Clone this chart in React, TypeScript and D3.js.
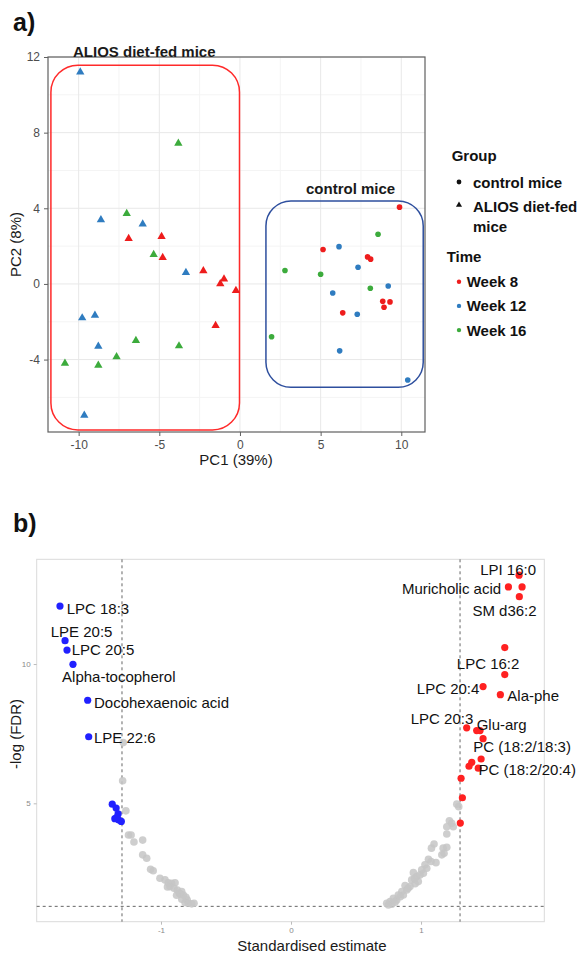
import React, { useEffect, useRef } from 'react'
import * as d3 from 'd3'

const FONT = '"Liberation Sans", Arial, sans-serif'

// ---- panel a: PCA scores [PC1, PC2] ----
const weekNames = ['Week 8', 'Week 12', 'Week 16']
const weekColors = ['#ee1c1c', '#2f7cc0', '#3cab3c']
const groupNames = ['control mice', 'ALIOS diet-fed mice']

const aliosWeek8 = [[-6.9, 2.4], [-4.86, 2.5], [-4.79, 1.39], [-2.27, 0.69], [-0.99, 0.26], [-1.22, 0.0], [-0.25, -0.35], [-1.51, -2.2]]
const aliosWeek12 = [[-9.9, 11.2], [-8.62, 3.39], [-6.03, 3.16], [-3.35, 0.6], [-9.78, -1.8], [-8.99, -1.66], [-8.78, -3.3], [-9.65, -6.95]]
const aliosWeek16 = [[-3.82, 7.44], [-7.02, 3.72], [-5.35, 1.55], [-6.45, -3.0], [-3.78, -3.28], [-7.65, -3.85], [-10.85, -4.2], [-8.78, -4.3]]

const controlWeek8 = [[9.89, 4.06], [5.15, 1.82], [7.91, 1.43], [8.1, 1.31], [8.85, -0.92], [9.3, -0.95], [8.93, -1.23], [6.37, -1.53]]
const controlWeek12 = [[6.14, 1.97], [7.32, 0.88], [9.19, -0.11], [5.75, -0.48], [7.27, -1.6], [6.18, -3.54], [10.4, -5.08]]
const controlWeek16 = [[8.56, 2.63], [2.79, 0.71], [5.0, 0.51], [8.08, -0.23], [1.96, -2.79]]

const pcaXTicks = [-10, -5, 0, 5, 10]
const pcaYTicks = [-4, 0, 4, 8, 12]

// ---- panel b: volcano [estimate, -log FDR] ----
const downLabelled = [
  { name: 'LPC 18:3', est: -1.777, fdr: 12.08 },
  { name: 'LPE 20:5', est: -1.738, fdr: 10.84 },
  { name: 'LPC 20:5', est: -1.723, fdr: 10.5 },
  { name: 'Alpha-tocopherol', est: -1.677, fdr: 9.99 },
  { name: 'Docohexaenoic acid', est: -1.564, fdr: 8.7 },
  { name: 'LPE 22:6', est: -1.556, fdr: 7.39 },
]
const downOther = [[-1.375, 4.97], [-1.345, 4.83], [-1.33, 4.62], [-1.355, 4.45], [-1.325, 4.4], [-1.305, 4.35], [-1.34, 4.5]]

const upLabelled = [
  { name: 'LPI 16:0', est: 1.754, fdr: 13.19 },
  { name: 'Muricholic acid', est: 1.672, fdr: 12.77 },
  { name: 'SM d36:2', est: 1.756, fdr: 12.42 },
  { name: 'LPC 16:2', est: 1.644, fdr: 9.62 },
  { name: 'LPC 20:4', est: 1.477, fdr: 9.19 },
  { name: 'Ala-phe', est: 1.61, fdr: 8.9 },
  { name: 'LPC 20:3', est: 1.351, fdr: 7.71 },
  { name: 'Glu-arg', est: 1.428, fdr: 7.61 },
  { name: 'PC (18:2/18:3)', est: 1.477, fdr: 7.32 },
  { name: 'PC (18:2/20:4)', est: 1.462, fdr: 6.59 },
]
const upOther = [[1.777, 12.77], [1.644, 10.59], [1.454, 7.61], [1.39, 6.47], [1.369, 6.33], [1.44, 6.26], [1.308, 5.9], [1.318, 5.2], [1.302, 4.29]]

const notSigLeft = [
  [-1.29, 7.18], [-1.295, 5.81], [-1.27, 4.73], [-1.25, 3.86], [-1.23, 3.86], [-1.208, 3.61], [-1.141, 3.68],
  [-1.141, 3.15], [-1.11, 3.03], [-1.08, 2.63], [-1.06, 2.58], [-1.008, 2.31], [-0.969, 2.25], [-0.944, 2.15],
  [-0.918, 2.13], [-0.892, 2.15], [-0.931, 2.01], [-0.9, 1.95], [-0.874, 1.89], [-0.841, 1.83], [-0.859, 1.77],
  [-0.828, 1.71], [-0.808, 1.63], [-0.798, 1.53], [-0.815, 1.44], [-0.79, 1.41], [-0.764, 1.39], [-0.746, 1.41],
  [-0.854, 1.75], [-0.84, 1.56], [-0.95, 2.0], [-0.88, 1.7],
]
const notSigRight = [
  [1.275, 4.97], [1.29, 4.88], [1.218, 4.37], [1.236, 4.28], [1.248, 4.16], [1.198, 4.16], [1.198, 3.9],
  [1.1, 3.54], [1.08, 3.39], [1.17, 3.39], [1.198, 3.42], [1.177, 3.21], [1.16, 3.15], [1.057, 2.99],
  [1.077, 2.91], [1.115, 2.87], [1.03, 2.79], [1.044, 2.67], [1.005, 2.61], [1.018, 2.49], [0.941, 2.51],
  [0.967, 2.37], [0.992, 2.43], [0.928, 2.25], [0.954, 2.11], [0.979, 2.19], [0.915, 2.01], [0.877, 2.05],
  [0.89, 1.89], [0.852, 1.83], [0.864, 1.71], [0.825, 1.71], [0.813, 1.53], [0.787, 1.59], [0.762, 1.47],
  [0.736, 1.41], [0.775, 1.38], [0.749, 1.35], [0.9, 1.95], [0.84, 1.65], [0.8, 1.45], [0.95, 2.3],
]

const volcanoXTicks = [-1, 0, 1]
const volcanoYTicks = [5, 10]
const estCutoff = 1.3
const fdrCutoff = -Math.log10(0.05)

// label placement (like ggrepel output), px from the point
const downNudge = [
  { anchor: 'start', dx: 6.7, dy: 2.3 },
  { anchor: 'middle', dx: 16.5, dy: -9 },
  { anchor: 'start', dx: 4.7, dy: -0.7 },
  { anchor: 'middle', dx: 45.8, dy: 12.4 },
  { anchor: 'start', dx: 6.3, dy: 2.4 },
  { anchor: 'start', dx: 5.3, dy: 0.6 },
]
const upNudge = [
  { anchor: 'middle', dx: -11, dy: -5.7 },
  { anchor: 'end', dx: -7.3, dy: 1.6 },
  { anchor: 'middle', dx: -14.8, dy: 14 },
  { anchor: 'middle', dx: -16.7, dy: -11.4 },
  { anchor: 'end', dx: -3.7, dy: 2.3 },
  { anchor: 'start', dx: 7, dy: 0.6 },
  { anchor: 'middle', dx: -24.7, dy: -9.4 },
  { anchor: 'start', dx: 0, dy: -6.4 },
  { anchor: 'start', dx: -9.7, dy: 8 },
  { anchor: 'start', dx: -2.7, dy: 11 },
]

const plainFormat = d => String(d)

function drawPca(g) {
  const box = { left: 48, right: 425, top: 57, bottom: 432 }
  const x = d3.scaleLinear().domain([-11.9, 11.47]).range([box.left, box.right])
  const y = d3.scaleLinear().domain([-7.83, 12]).range([box.bottom, box.top])

  // grid
  const minorX = pcaXTicks.slice(0, -1).map(t => t + 2.5)
  const minorY = [-6, ...pcaYTicks.slice(0, -1).map(t => t + 2)]
  g.selectAll('.gx').data(minorX).join('line')
    .attr('x1', d => x(d)).attr('x2', d => x(d)).attr('y1', box.top).attr('y2', box.bottom)
    .attr('stroke', '#f4f4f4')
  g.selectAll('.gy').data(minorY).join('line')
    .attr('y1', d => y(d)).attr('y2', d => y(d)).attr('x1', box.left).attr('x2', box.right)
    .attr('stroke', '#f4f4f4')
  g.append('g').selectAll('line').data(pcaXTicks).join('line')
    .attr('x1', d => x(d)).attr('x2', d => x(d)).attr('y1', box.top).attr('y2', box.bottom)
    .attr('stroke', '#e8e8e8')
  g.append('g').selectAll('line').data(pcaYTicks).join('line')
    .attr('y1', d => y(d)).attr('y2', d => y(d)).attr('x1', box.left).attr('x2', box.right)
    .attr('stroke', '#e8e8e8')

  g.append('rect')
    .attr('x', box.left).attr('y', box.top)
    .attr('width', box.right - box.left).attr('height', box.bottom - box.top)
    .attr('fill', 'none').attr('stroke', '#606060').attr('stroke-width', 1.2)

  const xAxis = g.append('g').attr('transform', `translate(0,${box.bottom})`)
    .call(d3.axisBottom(x).tickValues(pcaXTicks).tickFormat(plainFormat).tickSize(4).tickPadding(4))
  const yAxis = g.append('g').attr('transform', `translate(${box.left},0)`)
    .call(d3.axisLeft(y).tickValues(pcaYTicks).tickFormat(plainFormat).tickSize(4).tickPadding(4))
  ;[xAxis, yAxis].forEach(a => {
    a.select('.domain').remove()
    a.selectAll('line').attr('stroke', '#606060')
    a.selectAll('text').attr('font-size', 12).attr('fill', '#4d4d4d').attr('font-family', FONT)
  })

  // group boxes
  g.append('rect')
    .attr('x', x(-11.72)).attr('y', y(11.57))
    .attr('width', x(-0.03) - x(-11.72)).attr('height', y(-7.72) - y(11.57))
    .attr('rx', 27).attr('fill', 'none').attr('stroke', '#ff2a2a').attr('stroke-width', 1.5)
  g.append('rect')
    .attr('x', x(1.61)).attr('y', y(4.39))
    .attr('width', x(11.36) - x(1.61)).attr('height', y(-5.47) - y(4.39))
    .attr('rx', 25).attr('fill', 'none').attr('stroke', '#2e4f9e').attr('stroke-width', 1.5)

  const alios = [aliosWeek8, aliosWeek12, aliosWeek16]
  const control = [controlWeek8, controlWeek12, controlWeek16]
  const tri = d3.symbol(d3.symbolTriangle, 30)
  alios.forEach((pts, i) => {
    g.append('g').selectAll('path').data(pts).join('path')
      .attr('d', tri)
      .attr('transform', d => `translate(${x(d[0])},${y(d[1])})`)
      .attr('fill', weekColors[i])
  })
  control.forEach((pts, i) => {
    g.append('g').selectAll('circle').data(pts).join('circle')
      .attr('cx', d => x(d[0])).attr('cy', d => y(d[1])).attr('r', 2.8)
      .attr('fill', weekColors[i])
  })

  g.append('text').attr('x', 73).attr('y', 57).text(groupNames[1])
    .attr('font-size', 15).attr('font-weight', 'bold').attr('fill', '#1a1a1a')
  g.append('text').attr('x', 306).attr('y', 193.5).text(groupNames[0])
    .attr('font-size', 15).attr('font-weight', 'bold').attr('fill', '#1a1a1a')

  g.append('text').attr('x', 236).attr('y', 465).attr('text-anchor', 'middle')
    .attr('font-size', 15).attr('fill', '#1a1a1a').text('PC1 (39%)')
  g.append('text').attr('transform', `translate(21,${(box.top + box.bottom) / 2}) rotate(-90)`)
    .attr('text-anchor', 'middle').attr('font-size', 15).attr('fill', '#1a1a1a').text('PC2 (8%)')

  g.append('text').attr('x', 13).attr('y', 31).text('a)')
    .attr('font-size', 25).attr('font-weight', 'bold').attr('fill', '#111')

  // legend
  const lg = g.append('g').attr('font-size', 15).attr('font-weight', 'bold').attr('fill', '#111')
  lg.append('text').attr('x', 451.7).attr('y', 161).text('Group')
  lg.append('circle').attr('cx', 459).attr('cy', 182).attr('r', 2.4).attr('fill', '#111')
  lg.append('text').attr('x', 473).attr('y', 187.5).text(groupNames[0])
  lg.append('path').attr('d', d3.symbol(d3.symbolTriangle, 16)).attr('transform', 'translate(459,205)').attr('fill', '#111')
  lg.append('text').attr('x', 473).attr('y', 211.5).text('ALIOS diet-fed')
  lg.append('text').attr('x', 473).attr('y', 231.5).text('mice')
  lg.append('text').attr('x', 446.7).attr('y', 262).text('Time')
  weekNames.forEach((w, i) => {
    const cy = 281.7 + i * 24.2
    lg.append('circle').attr('cx', 459).attr('cy', cy).attr('r', 2.2).attr('fill', weekColors[i])
    lg.append('text').attr('x', 466.7).attr('y', cy + 5.5).text(w)
  })
}

function drawVolcano(g) {
  const box = { left: 36.7, right: 544.3, top: 559.3, bottom: 921.7 }
  const x = d3.scaleLinear().domain([-1.956, 1.948]).range([box.left, box.right])
  const y = d3.scaleLinear().domain([0.75, 13.76]).range([box.bottom, box.top])

  g.append('text').attr('x', 13).attr('y', 532).text('b)')
    .attr('font-size', 25).attr('font-weight', 'bold').attr('fill', '#111')

  g.append('rect')
    .attr('x', box.left).attr('y', box.top)
    .attr('width', box.right - box.left).attr('height', box.bottom - box.top)
    .attr('fill', 'none').attr('stroke', '#dadada').attr('stroke-width', 1)

  const xAxis = g.append('g').attr('transform', `translate(0,${box.bottom})`)
    .call(d3.axisBottom(x).tickValues(volcanoXTicks).tickFormat(plainFormat).tickSize(3).tickPadding(3))
  const yAxis = g.append('g').attr('transform', `translate(${box.left},0)`)
    .call(d3.axisLeft(y).tickValues(volcanoYTicks).tickFormat(plainFormat).tickSize(3).tickPadding(3))
  ;[xAxis, yAxis].forEach(a => {
    a.select('.domain').remove()
    a.selectAll('line').attr('stroke', '#bbb')
    a.selectAll('text').attr('font-size', 8).attr('fill', '#8a8a8a').attr('font-family', FONT)
  })

  const dash = '3,3'
  g.append('g').selectAll('line').data([-estCutoff, estCutoff]).join('line')
    .attr('x1', d => x(d)).attr('x2', d => x(d)).attr('y1', box.top).attr('y2', box.bottom)
    .attr('stroke', '#666').attr('stroke-dasharray', dash)
  g.append('line')
    .attr('x1', box.left).attr('x2', box.right).attr('y1', y(fdrCutoff)).attr('y2', y(fdrCutoff))
    .attr('stroke', '#666').attr('stroke-dasharray', dash)

  const dots = (pts, color, r, op) => g.append('g').selectAll('circle').data(pts).join('circle')
    .attr('cx', d => x(d[0])).attr('cy', d => y(d[1])).attr('r', r)
    .attr('fill', color).attr('fill-opacity', op)
  dots([...notSigLeft, ...notSigRight], '#c6c6c6', 3.8, 0.85)
  dots([...downOther, ...downLabelled.map(d => [d.est, d.fdr])], '#2121ff', 3.6, 1)
  dots([...upOther, ...upLabelled.map(d => [d.est, d.fdr])], '#ff2121', 3.6, 1)

  const labels = [
    ...downLabelled.map((d, i) => ({ ...d, ...downNudge[i] })),
    ...upLabelled.map((d, i) => ({ ...d, ...upNudge[i] })),
  ]
  g.append('g').selectAll('text').data(labels).join('text')
    .attr('x', d => x(d.est) + d.dx).attr('y', d => y(d.fdr) + d.dy)
    .attr('dy', '0.36em').attr('text-anchor', d => d.anchor)
    .attr('font-size', 15).attr('fill', '#111')
    .text(d => d.name)

  g.append('text').attr('x', 312).attr('y', 950.5).attr('text-anchor', 'middle')
    .attr('font-size', 15).attr('fill', '#1a1a1a').text('Standardised estimate')
  g.append('text').attr('transform', 'translate(21,734) rotate(-90)')
    .attr('text-anchor', 'middle').attr('font-size', 15).attr('fill', '#1a1a1a').text('-log (FDR)')
}

const App = () => {
  const d3Ref = useRef(null)

  useEffect(() => {
    const svg = d3.select(d3Ref.current)
    svg.selectAll('*').remove()
    drawPca(svg.append('g'))
    drawVolcano(svg.append('g'))
  }, [])

  return (
    <svg
      ref={d3Ref}
      width={584}
      height={953}
      fontFamily={FONT}
      style={{ position: 'absolute', left: 0, top: 0, background: '#fff' }}
    />
  )
}

export default App
